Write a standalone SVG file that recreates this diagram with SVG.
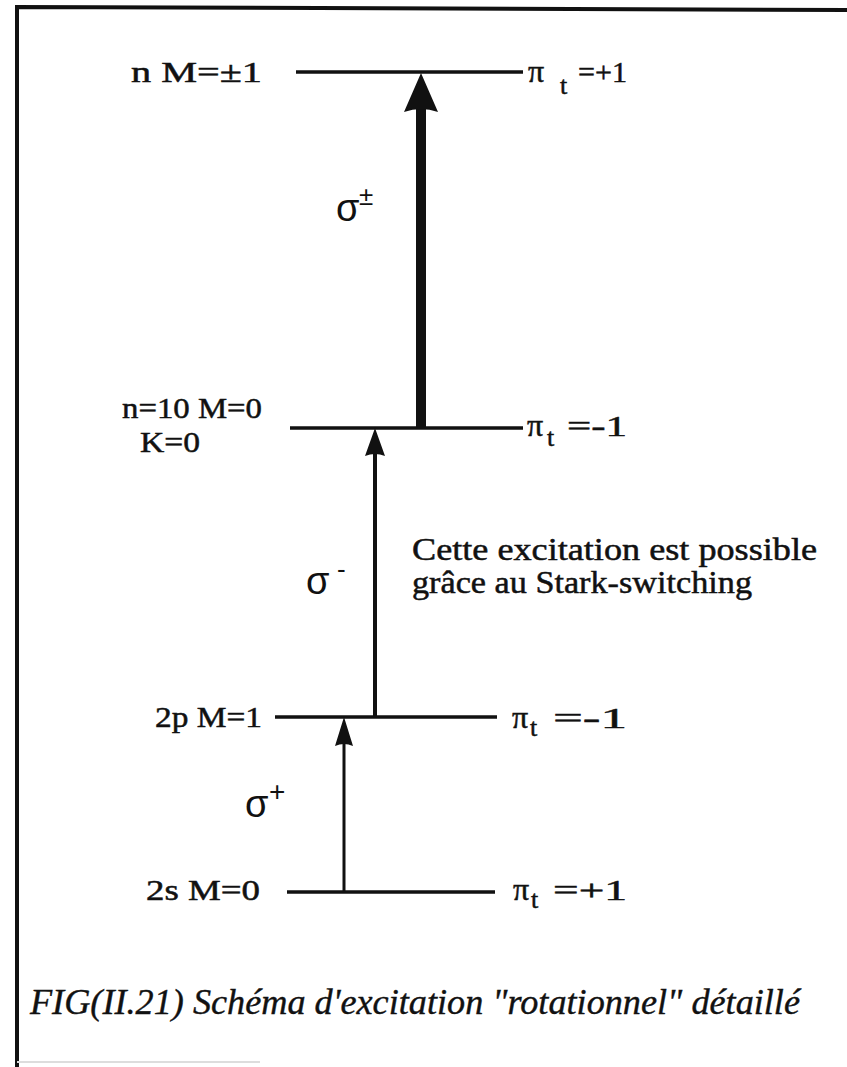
<svg xmlns="http://www.w3.org/2000/svg" width="847" height="1067" viewBox="0 0 847 1067">
<style>
.lvl{stroke:#111;stroke-width:3.5;fill:none}
.t{font-family:'Liberation Serif','Times New Roman',serif;fill:#111;stroke:#111;stroke-width:0.5}
.s{font-family:'Liberation Sans',Arial,sans-serif;fill:#111}
.cap{font-family:'Liberation Serif','Times New Roman',serif;font-style:italic;fill:#111;stroke:#111;stroke-width:0.4}
</style>
<rect width="847" height="1067" fill="#fff"/>
<g id="frame">
<path d="M17 1067 V7 L847 10" fill="none" stroke="#111" stroke-width="4"/>
<line x1="17" y1="1062" x2="260" y2="1062" stroke="#ddd" stroke-width="2"/>
</g>
<g id="level-nM1">
<line class="lvl" x1="296" y1="72" x2="523" y2="72" stroke-width="4"/>
<text class="t" x="131" y="82" font-size="30" textLength="131" lengthAdjust="spacingAndGlyphs">n M=±1</text>
<text class="t" x="528" y="82" font-size="32">π</text><text class="t" x="560" y="94" font-size="26">t</text><text class="t" x="578" y="82" font-size="30" textLength="49" lengthAdjust="spacingAndGlyphs">=+1</text>
</g>
<g id="level-n10">
<line class="lvl" x1="290" y1="428" x2="523" y2="428"/>
<text class="t" x="122" y="418" font-size="30" textLength="140" lengthAdjust="spacingAndGlyphs">n=10 M=0</text>
<text class="t" x="140" y="452" font-size="30" textLength="60" lengthAdjust="spacingAndGlyphs">K=0</text>
<text class="t" x="527" y="436" font-size="32">π</text><text class="t" x="547" y="446" font-size="26">t</text><text class="t" x="567" y="436" font-size="30" textLength="60" lengthAdjust="spacingAndGlyphs">=-1</text>
</g>
<g id="level-2p">
<line class="lvl" x1="275" y1="717" x2="497" y2="717"/>
<text class="t" x="155" y="727" font-size="30" textLength="107" lengthAdjust="spacingAndGlyphs">2p M=1</text>
<text class="t" x="512" y="728" font-size="32">π</text><text class="t" x="530" y="736" font-size="26">t</text><text class="t" x="553" y="728" font-size="30" textLength="74" lengthAdjust="spacingAndGlyphs">=-1</text>
</g>
<g id="level-2s">
<line class="lvl" x1="287" y1="892" x2="495" y2="892"/>
<text class="t" x="146" y="900" font-size="30" textLength="114" lengthAdjust="spacingAndGlyphs">2s M=0</text>
<text class="t" x="513" y="900" font-size="32">π</text><text class="t" x="531" y="908" font-size="26">t</text><text class="t" x="553" y="900" font-size="30" textLength="74" lengthAdjust="spacingAndGlyphs">=+1</text>
</g>
<g id="connectors">
<rect x="416" y="105" width="10" height="323" fill="#111"/>
<path d="M404 112 L421 73 L438 112 Q421 106 404 112 Z" fill="#111"/>
<rect x="373" y="450" width="4" height="267" fill="#111"/>
<path d="M365 456 L375 428 L385 456 Q375 452 365 456 Z" fill="#111"/>
<rect x="342.5" y="742" width="3" height="150" fill="#111"/>
<path d="M335 746 L344 717 L353 746 Q344 742 335 746 Z" fill="#111"/>
</g>
<g id="labels">
<text class="s" x="336" y="221" font-size="38">σ</text><text class="s" x="359" y="205" font-size="26">±</text>
<text class="s" x="306" y="594" font-size="38">σ</text><text class="s" x="337" y="578" font-size="26">-</text>
<text class="s" x="245" y="817" font-size="38">σ</text><text class="s" x="269" y="801" font-size="28">+</text>
<text class="t" x="412" y="560" font-size="31" textLength="405" lengthAdjust="spacingAndGlyphs">Cette excitation est possible</text>
<text class="t" x="412" y="593" font-size="31" textLength="340" lengthAdjust="spacingAndGlyphs">grâce au Stark-switching</text>
</g>
<g id="caption">
<text class="cap" x="30" y="1014" font-size="36" textLength="770" lengthAdjust="spacingAndGlyphs">FIG(II.21) Schéma d'excitation "rotationnel" détaillé</text>
</g>
</svg>
